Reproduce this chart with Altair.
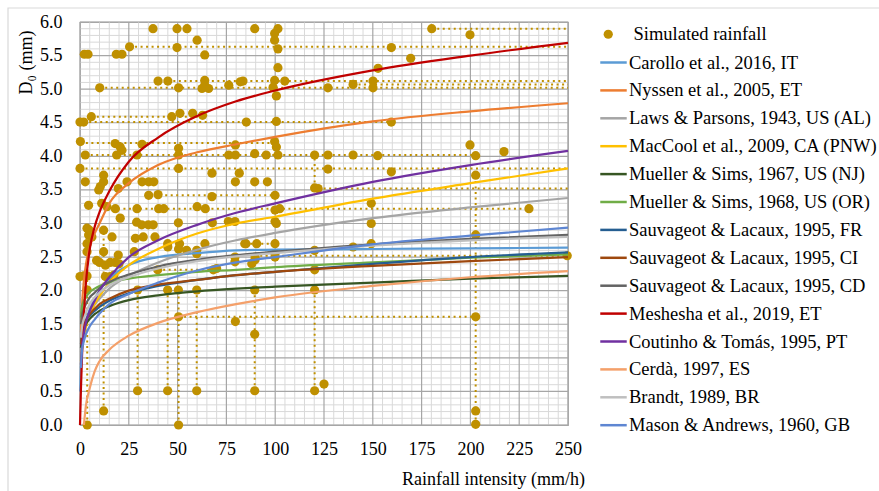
import altair as alt
import pandas as pd

FONT = "Liberation Serif"
GOLD = "#BF9000"

# ---------------------------------------------------------------------------
# Empirical D0-intensity relationships, sampled on a common intensity grid
# (mm/h). None = outside the range drawn for that relationship.
# ---------------------------------------------------------------------------
intensity = [0, 0.1, 0.5, 1, 2, 3, 5, 7.5, 10, 15, 25, 40, 60, 80, 100, 150, 200, 250]

studies = [
    "Carollo et al., 2016, IT",
    "Nyssen et al., 2005, ET",
    "Laws & Parsons, 1943, US (AL)",
    "MacCool et al., 2009, CA (PNW)",
    "Mueller & Sims, 1967, US (NJ)",
    "Mueller & Sims, 1968, US (OR)",
    "Sauvageot & Lacaux, 1995, FR",
    "Sauvageot & Lacaux, 1995, CI",
    "Sauvageot & Lacaux, 1995, CD",
    "Meshesha et al., 2019, ET",
    "Coutinho & Tomás, 1995, PT",
    "Cerdà, 1997, ES",
    "Brandt, 1989, BR",
    "Mason & Andrews, 1960, GB",
]
study_colors = [
    "#5B9BD5", "#ED7D31", "#A5A5A5", "#FFC000", "#375623", "#70AD47",
    "#255E91", "#9E480E", "#636363", "#C00000", "#7030A0", "#F4A06A",
    "#BFBFBF", "#5E86D2",
]

carollo   = [None, 0.5, 0.9, 1.15, 1.4, 1.55, 1.72, 1.88, 2.0, 2.18, 2.38, 2.5, 2.56, 2.6, 2.61, 2.62, 2.63, 2.64]
nyssen    = [None, None, 1.38, 1.75, 2.15, 2.38, 2.65, 2.85, 3.0, 3.3, 3.6, 3.87, 4.06, 4.18, 4.29, 4.52, 4.67, 4.79]
laws      = [None, None, 1.09, 1.24, 1.4, 1.51, 1.66, 1.79, 1.88, 2.03, 2.22, 2.42, 2.61, 2.75, 2.86, 3.08, 3.24, 3.38]
maccool   = [None, None, 0.95, 1.12, 1.32, 1.45, 1.65, 1.8, 1.92, 2.12, 2.38, 2.62, 2.85, 3.0, 3.1, 3.37, 3.6, 3.82]
mueller67 = [None, None, 1.15, 1.3, 1.42, 1.5, 1.58, 1.65, 1.7, 1.77, 1.86, 1.93, 1.99, 2.03, 2.06, 2.12, 2.18, 2.22]
mueller68 = [None, None, 1.6, 1.75, 1.85, 1.9, 1.98, 2.03, 2.07, 2.12, 2.18, 2.23, 2.28, 2.31, 2.35, 2.42, 2.49, 2.54]
sauv_fr   = [None, None, 1.2, 1.35, 1.47, 1.55, 1.63, 1.7, 1.76, 1.85, 1.96, 2.07, 2.16, 2.23, 2.28, 2.4, 2.5, 2.57]
sauv_ci   = [None, None, 1.2, 1.32, 1.45, 1.55, 1.65, 1.73, 1.8, 1.88, 2.0, 2.09, 2.16, 2.23, 2.28, 2.37, 2.44, 2.5]
sauv_cd   = [None, None, 1.5, 1.62, 1.73, 1.8, 1.9, 1.97, 2.04, 2.13, 2.24, 2.36, 2.46, 2.53, 2.58, 2.69, 2.77, 2.83]
meshesha  = [0.0, None, 0.55, 1.0, 1.65, 2.1, 2.62, 2.95, 3.17, 3.48, 3.92, 4.28, 4.6, 4.82, 4.98, 5.28, 5.5, 5.69]
coutinho  = [None, None, 0.9, 1.14, 1.36, 1.52, 1.7, 1.85, 2.0, 2.2, 2.5, 2.75, 2.98, 3.16, 3.3, 3.62, 3.87, 4.08]
cerda     = [None, None, None, None, 0.0, 0.28, 0.55, 0.8, 0.95, 1.12, 1.33, 1.52, 1.68, 1.8, 1.9, 2.07, 2.2, 2.29]
brandt    = [None, None, 1.3, 1.45, 1.58, 1.67, 1.8, 1.9, 1.97, 2.08, 2.2, 2.33, 2.44, 2.51, 2.56, 2.67, 2.75, 2.8]
mason     = [None, None, 0.85, 1.1, 1.25, 1.35, 1.47, 1.57, 1.66, 1.8, 1.95, 2.12, 2.3, 2.42, 2.5, 2.69, 2.82, 2.94]

curves = [carollo, nyssen, laws, maccool, mueller67, mueller68, sauv_fr,
          sauv_ci, sauv_cd, meshesha, coutinho, cerda, brandt, mason]

# ---------------------------------------------------------------------------
# Simulated rainfall events: intensity (mm/h) and median drop diameter (mm)
# ---------------------------------------------------------------------------
sim_i = [
    37.4, 49.7, 54.8, 60, 25.4, 49.7, 2.2, 4.1, 18.6, 21.5, 63.9, 10.1, 40, 45,
    50.5, 63.9, 63.9, 65.9, 62.5, 76.2, 82.1, 0, 1.9, 5.8, 47, 51.2, 57.7, 62.8,
    89.5, 101.4, 99.7, 99.7, 101.4, 101.4, 83.5, 99.7, 104.9, 98.9, 100.6, 127,
    139.9, 150.1, 150.1, 159.5, 152.7, 85.2, 100.6, 159.5, 180.2, 199.8, 169.4,
    0.2, 2.7, 18, 20.6, 21.5, 18.8, 31.8, 29.2, 50.5, 50.5, 50.5, 79.6, 76.2,
    79.6, 0, 67.6, 81.6, 2.7, 12.1, 12.1, 10.4, 9.6, 24.1, 31.8, 35.2, 37.8,
    79.6, 4.4, 13.8, 18.1, 35.2, 40, 40.3, 42.9, 29.2, 20.6, 60, 64.2, 67.6,
    11.1, 19.6, 29, 31.6, 35, 37.5, 50.4, 67.8, 76, 79.4, 99.9, 99.9, 99.9,
    99.7, 100.6, 101.4, 89.5, 95.4, 120.2, 127, 139.9, 152.5, 127, 159.5, 120.2,
    122, 89.5, 96, 102.3, 149.2, 149.2, 100.6, 199.8, 202.7, 217.2, 202.7, 230,
    3.6, 4.4, 6.1, 3.6, 12.1, 16.4, 12.1, 3.6, 10, 13, 15.5, 18, 20, 1.9, 3.6,
    13, 15.5, 17.3, 28.4, 27.8, 19.6, 39.8, 45, 50.5, 51, 54.6, 59.8, 59.8, 64,
    68.3, 70, 79.4, 79.4, 89.7, 89.7, 99.9, 99.9, 85, 99.9, 32.4, 38.4, 44.9,
    3.7, 29.5, 44.9, 50.4, 59.8, 89.5, 120.2, 50.5, 79.6, 89.5, 29.5, 44.9,
    59.8, 89.5, 120.2, 125, 12.1, 3.7, 50.5, 202.7, 202.7, 202.7, 202.7, 249.6,
    120.2, 139.9, 149.2, 120.2, 84.4, 0, 4.8, 8.5, 88, 90.5,
]
sim_d = [
    5.90, 5.90, 5.90, 5.73, 5.63, 5.62, 5.52, 5.52, 5.52, 5.52, 5.51, 5.02, 5.12, 5.12,
    5.02, 5.13, 5.06, 5.01, 5.01, 5.06, 5.11, 4.51, 4.51, 4.59, 4.59, 4.64, 4.64, 4.61,
    5.90, 5.90, 5.83, 5.73, 5.60, 5.32, 5.12, 5.13, 5.12, 5.03, 4.90, 5.02,
    5.07, 5.12, 5.02, 5.62, 5.31, 4.51, 4.52, 4.51, 5.90, 5.81, 5.46,
    4.22, 4.02, 4.19, 4.14, 4.09, 4.02, 4.18, 4.02, 4.12, 4.02, 3.82, 4.17, 4.02,
    4.02, 3.82, 3.75, 3.75, 3.62, 3.72, 3.62, 3.55, 3.50, 3.62, 3.62, 3.62, 3.62,
    3.62, 3.27, 3.25, 3.22, 3.42, 3.43, 3.22, 3.22, 3.22, 3.08, 3.25, 3.22, 3.40,
    3.30, 3.52, 3.02, 2.98, 2.98, 2.98, 3.01, 3.01, 3.03, 3.03, 3.42, 3.20, 3.03,
    4.22, 4.14, 4.02, 4.04, 4.02, 4.02, 4.02, 4.02, 4.01, 3.81, 3.77, 3.53,
    3.52, 3.62, 3.62, 3.22, 3.30, 3.00, 3.00, 4.17, 4.01, 4.07, 3.72, 3.22,
    2.93, 2.83, 2.80, 2.70, 2.90, 2.80, 2.58, 2.58, 2.42, 2.38, 2.42, 2.42, 2.40, 2.22, 2.22,
    2.21, 2.21, 2.23, 2.78, 2.58, 2.53, 2.31, 2.65, 2.62, 2.70, 2.60, 2.60, 2.55, 2.70,
    2.31, 2.33, 2.50, 2.43, 2.50, 2.46, 2.55, 2.50, 2.70, 2.70, 2.80, 2.80, 2.70,
    2.01, 2.01, 2.01, 2.01, 2.01, 2.01, 2.01, 1.61, 1.54, 1.35, 0.51, 0.51,
    0.51, 0.51, 0.51, 0.61, 0.21, 0.00, 0.00, 0.21, 0.01, 1.61, 2.83, 2.52,
    2.60, 2.65, 2.70, 2.31, 2.70, 2.21, 2.90, 2.45, 2.40, 2.70,
]

# Dotted guide segments joining events (horizontal: level, from, to)
h_level = [5.90, 5.63, 5.12, 5.07, 5.02, 4.59, 4.51, 4.20, 4.02, 3.82, 3.52, 3.42, 3.22, 2.70, 2.52, 2.31, 1.61]
h_from  = [180.2, 25.4, 45, 139.9, 10.1, 5.8, 1.9, 0.2, 2.7, 0, 122, 35.2, 13.8, 84.4, 89.5, 39.8, 50.5]
h_to    = [250, 250, 250, 250, 250, 62.8, 159.5, 99.7, 202.7, 250, 250, 99.9, 230, 99.7, 250, 68.3, 202.7]
# (vertical: intensity, from, to)
v_at    = [202.7, 120.2, 120.2, 89.5, 59.8, 50.5, 44.9, 29.5, 12.1, 3.7]
v_from  = [0.0, 0.51, 3.53, 0.51, 0.51, 0.0, 0.51, 0.51, 0.21, 0.0]
v_to    = [3.72, 2.01, 4.02, 2.01, 2.01, 2.01, 2.01, 2.01, 2.90, 2.93]

# ---------------------------------------------------------------------------
# Tables
# ---------------------------------------------------------------------------
rows = []
for name, vals in zip(studies, curves):
    for i, d in zip(intensity, vals):
        if d is not None:
            rows.append({"I": i, "D": d, "study": name})
curve_df = pd.DataFrame(rows)

sim_df = pd.DataFrame({"I": sim_i, "D": sim_d, "kind": "Simulated rainfall"})

seg_df = pd.DataFrame(
    [{"I": a, "I2": b, "D": y, "D2": y} for y, a, b in zip(h_level, h_from, h_to)]
    + [{"I": x, "I2": x, "D": a, "D2": b} for x, a, b in zip(v_at, v_from, v_to)]
)

major_x = list(range(0, 251, 25))
minor_x = [v for v in range(0, 251, 5) if v % 25]
major_y = [k / 2 for k in range(0, 13)]
minor_y = [k / 10 for k in range(0, 61) if k % 5]

W, H = 488, 403
xs = alt.Scale(domain=[0, 250], nice=False, zero=False)
ys = alt.Scale(domain=[0, 6], nice=False)

# One axis definition shared by every layer so the layered axes merge cleanly
x_axis = alt.Axis(
    values=major_x, format="d", grid=False, ticks=False, domain=False,
    labelFlush=False, labelOverlap=False,
    labelFont=FONT, labelFontSize=18, labelColor="#000000", labelPadding=15,
    title="Rainfall intensity (mm/h)", titleFont=FONT, titleFontSize=18,
    titleFontWeight="normal", titleColor="#000000",
    titleX=413, titleY=54, titleBaseline="middle", titleAlign="center",
)
y_axis = alt.Axis(
    values=major_y, format=".1f", grid=False, ticks=False, domain=False,
    labelFlush=False, labelOverlap=False,
    labelFont=FONT, labelFontSize=18, labelColor="#000000", labelPadding=18,
    title="D\u2080 (mm)", titleFont=FONT, titleFontSize=18,
    titleFontWeight="normal", titleColor="#000000",
    titleX=-54, titleY=40, titleAngle=-90, titleBaseline="middle",
    titleAlign="center",
)


def X(field):
    return alt.X(field, scale=xs, axis=x_axis, title="Rainfall intensity (mm/h)")


def Y(field):
    return alt.Y(field, scale=ys, axis=y_axis, title="D\u2080 (mm)")


grid_minor_x = alt.Chart(pd.DataFrame({"I": minor_x})).mark_rule(
    color="#D9D9D9", strokeWidth=1).encode(x=X("I:Q"))
grid_minor_y = alt.Chart(pd.DataFrame({"D": minor_y})).mark_rule(
    color="#D9D9D9", strokeWidth=1).encode(y=Y("D:Q"))
grid_major_x = alt.Chart(pd.DataFrame({"I": major_x})).mark_rule(
    color="#A6A6A6", strokeWidth=1.2).encode(x=X("I:Q"))
grid_major_y = alt.Chart(pd.DataFrame({"D": major_y})).mark_rule(
    color="#A6A6A6", strokeWidth=1.2).encode(y=Y("D:Q"))

guides = alt.Chart(seg_df).mark_rule(
    color=GOLD, strokeWidth=2, strokeDash=[2, 3.5]
).encode(x=X("I:Q"), x2="I2:Q", y=Y("D:Q"), y2="D2:Q")

points = alt.Chart(sim_df).mark_circle(size=85, opacity=1).encode(
    x=X("I:Q"),
    y=Y("D:Q"),
    fill=alt.Fill(
        "kind:N",
        scale=alt.Scale(domain=["Simulated rainfall"], range=[GOLD]),
        legend=alt.Legend(
            orient="none", legendX=519, legendY=3, title=None,
            symbolType="circle", symbolSize=85, symbolStrokeWidth=0,
            labelFont=FONT, labelFontSize=18.5, labelColor="#000000",
            labelOffset=16, padding=0,
        ),
    ),
)

lines = alt.Chart(curve_df).mark_line(strokeWidth=2.2, interpolate="monotone").encode(
    x=X("I:Q"),
    y=Y("D:Q"),
    color=alt.Color(
        "study:N",
        scale=alt.Scale(domain=studies, range=study_colors),
        legend=alt.Legend(
            orient="none", legendX=519, legendY=26, title=None,
            symbolType="stroke", symbolSize=700, symbolStrokeWidth=2.5,
            labelFont=FONT, labelFontSize=18.5, labelColor="#000000",
            labelOffset=1, rowPadding=3.9, padding=0, labelLimit=400,
        ),
    ),
    order="I:Q",
)

# light frame around the whole chart area
frame = alt.Chart(pd.DataFrame({"k": [0]})).mark_rect(
    fill=None, stroke="#D9D9D9", strokeWidth=1.2
).encode(
    x=alt.value(-72), x2=alt.value(879 - 80 + 10),
    y=alt.value(-14), y2=alt.value(491 - 22 + 10),
)

chart = alt.layer(
    frame, grid_minor_x, grid_minor_y, grid_major_x, grid_major_y, guides, points, lines
).properties(
    width=W, height=H,
    autosize=alt.AutoSizeParams(type="none"),
    padding={"left": 80, "top": 22, "right": 879 - 80 - W, "bottom": 491 - 22 - H},
    background="#FFFFFF",
).configure_view(stroke="#A6A6A6", strokeWidth=1.2)

chart.save("out.html", embed_options={"renderer": "svg", "actions": False})
